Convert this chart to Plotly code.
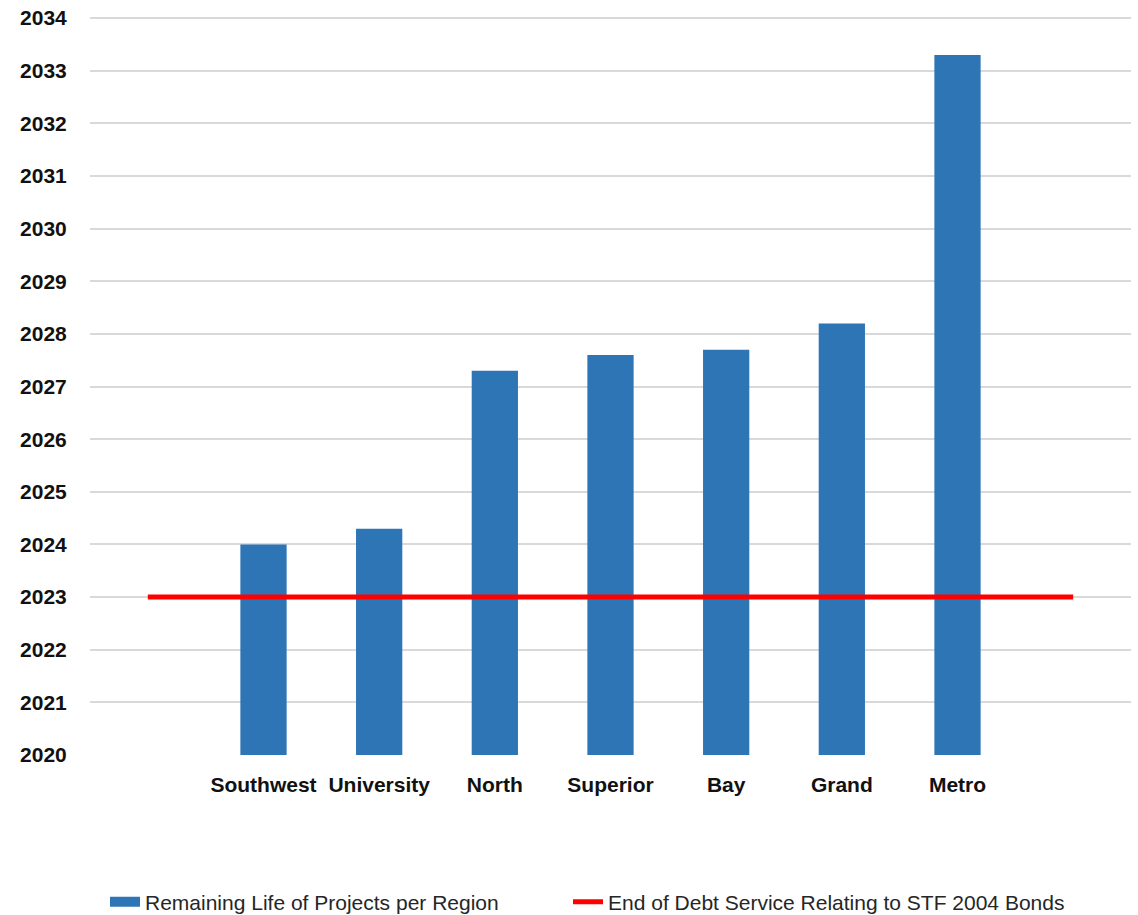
import plotly.graph_objects as go

regions = ["Southwest", "University", "North", "Superior", "Bay", "Grand", "Metro"]
remaining_life = [2024.0, 2024.3, 2027.3, 2027.6, 2027.7, 2028.2, 2033.3]
debt_end_year = 2023
y_ticks = list(range(2020, 2035))

bar_name = "Remaining Life of Projects per Region"
line_name = "End of Debt Service Relating to STF 2004 Bonds"
bar_color = "#2e75b6"

x_pos = list(range(1, len(regions) + 1))
line_x = [0, len(regions) + 1]

FONT = "Liberation Sans, Arial, sans-serif"
W, H = 1138, 915

fig = go.Figure()
fig.add_trace(go.Bar(
    x=x_pos, y=[v - y_ticks[0] for v in remaining_life], base=y_ticks[0],
    name=bar_name, marker=dict(color=bar_color, line=dict(width=0)), width=0.4,
    showlegend=False,
))
# legend swatch for the bars (wide rectangle like the original)
fig.add_trace(go.Scatter(
    x=[None], y=[None], mode="lines", name=bar_name,
    line=dict(color=bar_color, width=13), legend="legend",
))
fig.add_trace(go.Scatter(
    x=line_x, y=[debt_end_year, debt_end_year], mode="lines", name=line_name,
    line=dict(color="#ff0000", width=5), legend="legend2",
))

legend_common = dict(orientation="h", xref="container", yref="container",
                     xanchor="left", yanchor="middle", y=1 - 902 / H,
                     font=dict(size=21, color="#262626"), itemwidth=30,
                     bgcolor="rgba(0,0,0,0)")

fig.update_layout(
    width=W, height=H,
    margin=dict(l=90, r=7, t=16, b=160),
    paper_bgcolor="white", plot_bgcolor="white",
    font=dict(family=FONT, color="#1a1a1a"),
    showlegend=True,
    legend=dict(x=105 / W, **legend_common),
    legend2=dict(x=568 / W, **legend_common),
)
fig.update_xaxes(
    range=[-0.5, len(regions) + 1.5], tickmode="array", tickvals=x_pos, ticktext=regions,
    showgrid=False, zeroline=False, showline=False,
    ticks="outside", ticklen=11, tickcolor="rgba(0,0,0,0)",
    tickfont=dict(size=21, family=FONT, color="#111111", weight="bold"),
)
fig.update_yaxes(
    range=[y_ticks[0], y_ticks[-1] + 0.04], tickmode="array", tickvals=y_ticks,
    showgrid=True, gridcolor="#d9d9d9", gridwidth=1.5, zeroline=False, showline=False,
    ticks="outside", ticklen=18, tickcolor="rgba(0,0,0,0)",
    tickfont=dict(size=21, family=FONT, color="#111111", weight="bold"),
)

fig.write_html("out.html")
